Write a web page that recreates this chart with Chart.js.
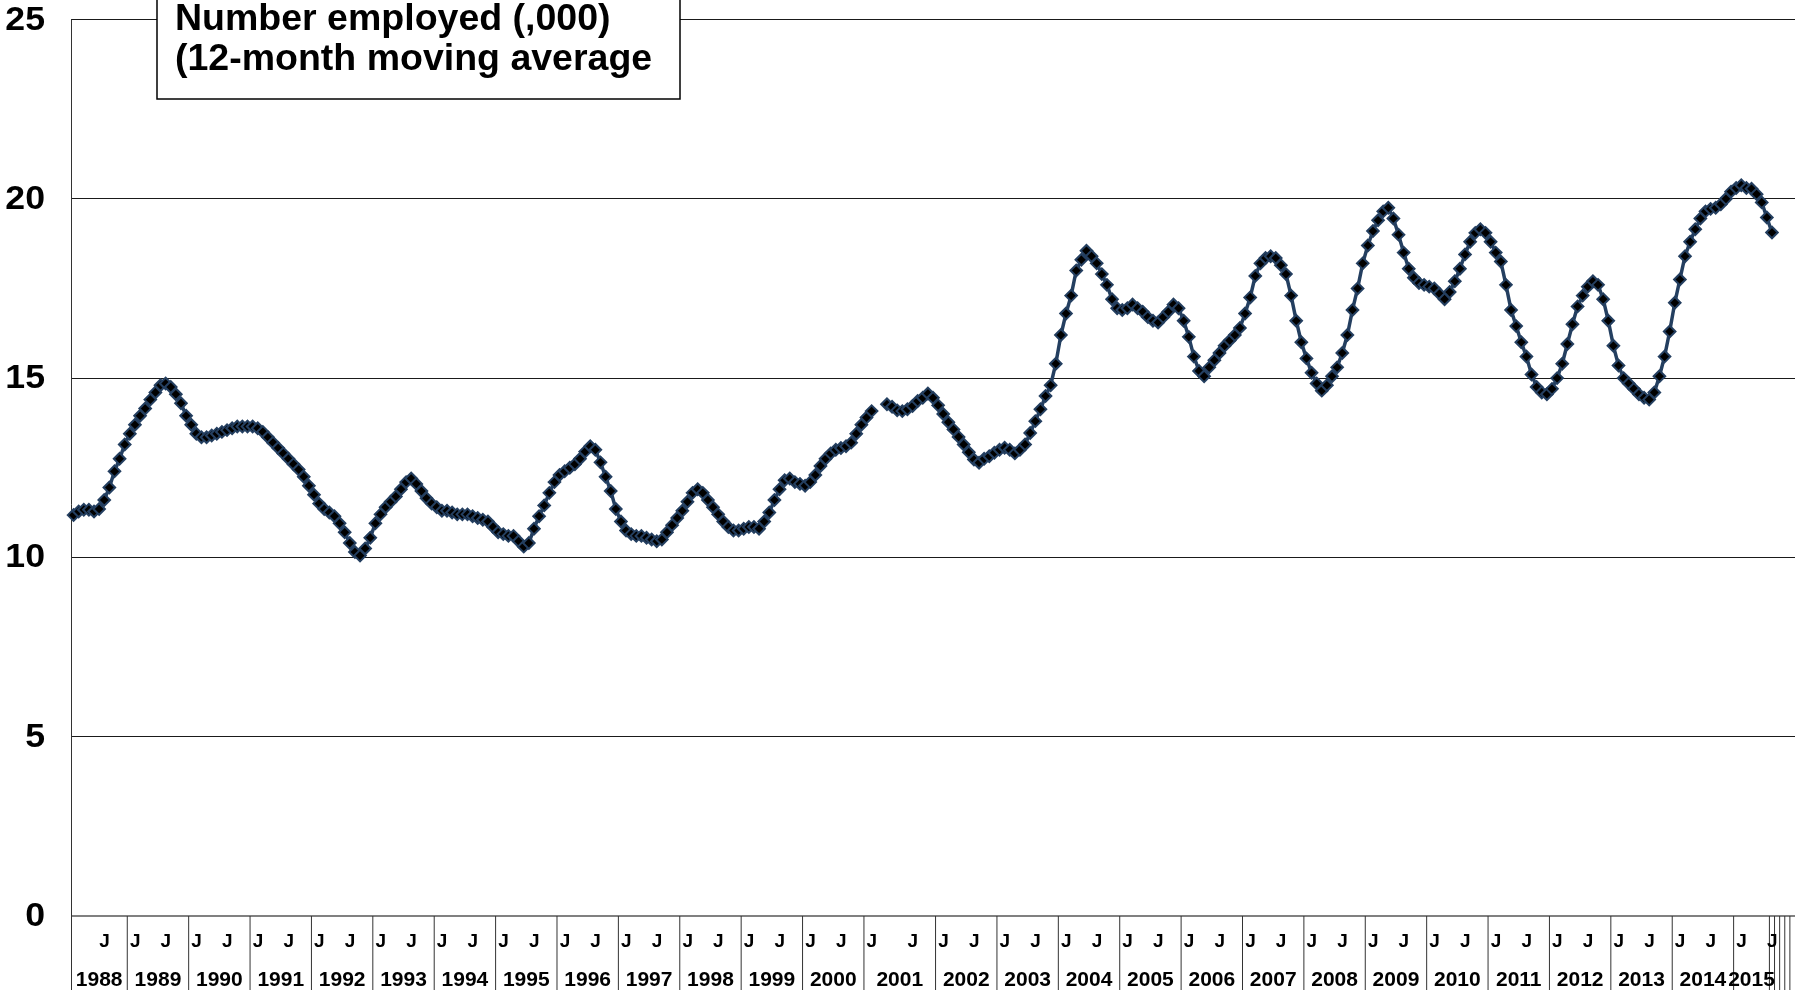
<!DOCTYPE html>
<html>
<head>
<meta charset="utf-8">
<script src="https://cdn.jsdelivr.net/npm/chart.js@4.4.1/dist/chart.umd.min.js"></script>
<style>
  html, body { margin: 0; padding: 0; background: #fff; }
  #wrap { width: 1806px; height: 990px; position: relative; }
</style>
</head>
<body>
<div id="wrap"><canvas id="c" width="1806" height="990"></canvas></div>
<script>
// Year groups along the category axis (blank groups pad the end of the axis)
const yearLabels = ['1988','1989','1990','1991','1992','1993','1994','1995','1996','1997',
  '1998','1999','2000','2001','2002','2003','2004','2005','2006','2007','2008','2009',
  '2010','2011','2012','2013','2014','2015','','','','',''];

// Month number of each slot in a year group (0 = empty slot)
const fullYear = [1,2,3,4,5,6,7,8,9,10,11,12];
const yearMonths = [
  [2,3,4,5,6,7,8,9,10,11,12],                 // 1988 starts in February
  fullYear, fullYear, fullYear, fullYear, fullYear, fullYear,
  fullYear, fullYear, fullYear, fullYear, fullYear, fullYear,   // 1989-2000
  [1,2,0,0,3,4,5,6,7,8,9,10,11,12],           // 2001
  fullYear, fullYear, fullYear, fullYear, fullYear, fullYear, fullYear,
  fullYear, fullYear, fullYear, fullYear, fullYear, fullYear,   // 2002-2014
  [1,2,3,4,5,6,7],                            // 2015
  [8], [0], [0], [0], [0]
];

// Number employed (,000), 12-month moving average, one value per slot
const employed = [
  // 1988
  11.18, 11.28, 11.33, 11.33, 11.28, 11.35, 11.6, 11.95, 12.4, 12.75, 13.15,
  // 1989
  13.45, 13.7, 13.95, 14.15, 14.4, 14.6, 14.8, 14.85, 14.75, 14.55, 14.3, 13.95,
  // 1990
  13.7, 13.45, 13.35, 13.35, 13.4, 13.45, 13.5, 13.55, 13.6, 13.65, 13.65, 13.65,
  // 1991
  13.65, 13.6, 13.5, 13.35, 13.2, 13.05, 12.9, 12.75, 12.6, 12.45, 12.25, 12.0,
  // 1992
  11.75, 11.5, 11.35, 11.25, 11.15, 10.95, 10.7, 10.4, 10.15, 10.05, 10.25, 10.55,
  // 1993
  10.95, 11.2, 11.4, 11.55, 11.7, 11.9, 12.1, 12.2, 12.05, 11.85, 11.65, 11.5,
  // 1994
  11.4, 11.3, 11.3, 11.25, 11.2, 11.2, 11.2, 11.15, 11.1, 11.05, 11.0, 10.85,
  // 1995
  10.7, 10.65, 10.6, 10.6, 10.45, 10.3, 10.4, 10.8, 11.15, 11.45, 11.8, 12.1,
  // 1996
  12.3, 12.4, 12.5, 12.6, 12.75, 12.95, 13.1, 13.0, 12.65, 12.25, 11.85, 11.35,
  // 1997
  11.0, 10.75, 10.65, 10.6, 10.6, 10.55, 10.5, 10.45, 10.5, 10.7, 10.9, 11.1,
  // 1998
  11.3, 11.55, 11.8, 11.9, 11.8, 11.6, 11.4, 11.2, 11.0, 10.85, 10.75, 10.75,
  // 1999
  10.8, 10.85, 10.85, 10.8, 11.0, 11.25, 11.6, 11.9, 12.15, 12.2, 12.1, 12.05,
  // 2000
  12.0, 12.1, 12.3, 12.55, 12.75, 12.9, 13.0, 13.05, 13.1, 13.2, 13.45, 13.7,
  // 2001
  13.9, 14.08, null, null, 14.27, 14.2, 14.1, 14.08, 14.13, 14.22, 14.36, 14.45, 14.57, 14.45,
  // 2002
  14.24, 14.0, 13.77, 13.57, 13.36, 13.15, 12.93, 12.73, 12.64, 12.75, 12.82, 12.92,
  // 2003
  13.0, 13.06, 13.0, 12.9, 13.0, 13.15, 13.47, 13.8, 14.13, 14.5, 14.8, 15.4,
  // 2004
  16.2, 16.8, 17.3, 18.0, 18.3, 18.55, 18.4, 18.2, 17.9, 17.6, 17.2, 16.95,
  // 2005
  16.9, 16.95, 17.05, 16.95, 16.85, 16.7, 16.6, 16.55, 16.7, 16.85, 17.05, 16.95,
  // 2006
  16.6, 16.15, 15.6, 15.2, 15.05, 15.3, 15.5, 15.7, 15.9, 16.05, 16.2, 16.4,
  // 2007
  16.8, 17.25, 17.85, 18.2, 18.35, 18.4, 18.35, 18.15, 17.9, 17.3, 16.6, 16.0,
  // 2008
  15.55, 15.15, 14.85, 14.65, 14.8, 15.05, 15.3, 15.7, 16.2, 16.9, 17.5, 18.2,
  // 2009
  18.7, 19.1, 19.4, 19.65, 19.75, 19.45, 19.0, 18.5, 18.05, 17.8, 17.65, 17.6,
  // 2010
  17.55, 17.5, 17.35, 17.2, 17.4, 17.7, 18.05, 18.45, 18.8, 19.05, 19.15, 19.05,
  // 2011
  18.8, 18.5, 18.25, 17.6, 16.9, 16.45, 16.0, 15.6, 15.1, 14.75, 14.6, 14.55,
  // 2012
  14.7, 15.0, 15.4, 15.95, 16.5, 17.0, 17.3, 17.55, 17.7, 17.6, 17.2, 16.6,
  // 2013
  15.9, 15.35, 15.0, 14.85, 14.7, 14.55, 14.45, 14.4, 14.6, 15.05, 15.6, 16.3,
  // 2014
  17.1, 17.75, 18.4, 18.8, 19.15, 19.45, 19.65, 19.72, 19.75, 19.85, 20.0, 20.2,
  // 2015
  20.3, 20.38, 20.3, 20.28, 20.13, 19.9, 19.48, 19.06
];

const yTicks = [0, 5, 10, 15, 20, 25];
const titleLines = ['Number employed (,000)', '(12-month moving average'];

// Build the flat category list and the year groups
const monthLabels = [];
const groups = [];
yearLabels.forEach((yr, g) => {
  const months = yearMonths[g];
  groups.push({ label: yr, start: monthLabels.length, size: months.length });
  months.forEach(m => monthLabels.push(m === 1 || m === 7 ? 'J' : ''));
});

const NAVY = '#243f60';
const FONT = "'Liberation Sans', Arial, Helvetica, sans-serif";

const decorations = {
  id: 'decorations',
  beforeDatasetsDraw(chart) {
    const { ctx, chartArea: a, scales: { y } } = chart;
    ctx.save();
    // horizontal category axis line
    const y0 = y.getPixelForValue(0);
    ctx.strokeStyle = '#808080';
    ctx.lineWidth = 2;
    ctx.beginPath();
    ctx.moveTo(a.left, y0);
    ctx.lineTo(a.right, y0);
    ctx.stroke();
    // vertical value axis line, carried down through the label rows
    ctx.strokeStyle = '#333';
    ctx.lineWidth = 1;
    ctx.beginPath();
    ctx.moveTo(Math.round(a.left) + 0.5, a.top);
    ctx.lineTo(Math.round(a.left) + 0.5, chart.height);
    ctx.stroke();
    ctx.restore();
  },
  afterDraw(chart) {
    const { ctx, chartArea: a, scales: { x, y } } = chart;
    const step = x.getPixelForValue(1) - x.getPixelForValue(0);
    const edge = i => x.getPixelForValue(i) - step / 2;   // left edge of slot i
    ctx.save();

    // value axis labels
    ctx.fillStyle = '#000';
    ctx.font = 'bold 33px ' + FONT;
    ctx.textAlign = 'right';
    ctx.textBaseline = 'middle';
    yTicks.forEach(v => {
      ctx.save();
      ctx.translate(45, y.getPixelForValue(v) + 1);
      ctx.scale(1.08, 1);
      ctx.fillText(String(v), 0, 0);
      ctx.restore();
    });

    // year separators
    ctx.strokeStyle = '#333';
    ctx.lineWidth = 1;
    groups.forEach((g, i) => {
      if (i === 0) return;
      const px = edge(g.start);
      ctx.beginPath();
      ctx.moveTo(px, a.bottom);
      ctx.lineTo(px, chart.height);
      ctx.stroke();
    });

    // month initials
    ctx.textAlign = 'center';
    ctx.font = 'bold 19px ' + FONT;
    monthLabels.forEach((lab, i) => {
      if (!lab) return;
      ctx.fillText(lab, edge(i) + step * 1.55, 942);
    });

    // year labels centred in their groups
    ctx.font = 'bold 21px ' + FONT;
    groups.forEach(g => {
      if (!g.label) return;
      ctx.fillText(g.label, (edge(g.start) + edge(g.start + g.size)) / 2, 980);
    });

    // title box
    ctx.fillStyle = '#fff';
    ctx.fillRect(157, -5, 523, 104);
    ctx.strokeStyle = '#000';
    ctx.lineWidth = 1.5;
    ctx.strokeRect(157, -5, 523, 104);
    ctx.fillStyle = '#000';
    ctx.textAlign = 'left';
    ctx.font = 'bold 37.5px ' + FONT;
    ctx.fillText(titleLines[0], 175, 19.5);
    ctx.fillText(titleLines[1], 175, 60);
    ctx.restore();
  }
};

new Chart(document.getElementById('c'), {
  type: 'line',
  data: {
    labels: monthLabels,
    datasets: [{
      data: employed,
      borderColor: NAVY,
      borderWidth: 3.5,
      pointStyle: 'rectRot',
      pointRadius: 5.8,
      pointBorderWidth: 2,
      pointBackgroundColor: '#000',
      pointBorderColor: NAVY,
      tension: 0,
      fill: false,
      spanGaps: false
    }]
  },
  options: {
    responsive: false,
    animation: false,
    devicePixelRatio: 1,
    layout: { padding: { left: 71, top: 19.5, right: 11, bottom: 74 } },
    plugins: { legend: { display: false }, tooltip: { enabled: false } },
    scales: {
      x: {
        type: 'category',
        display: false,
        offset: true,
        grid: { display: false }
      },
      y: {
        min: 0,
        max: 25,
        ticks: { display: false, stepSize: 5 },
        grid: {
          drawTicks: false,
          color: c => (c.tick && c.tick.value === 0 ? 'rgba(0,0,0,0)' : '#1a1a1a'),
          lineWidth: 1
        },
        border: { display: false }
      }
    }
  },
  plugins: [decorations]
});
</script>
</body>
</html>
